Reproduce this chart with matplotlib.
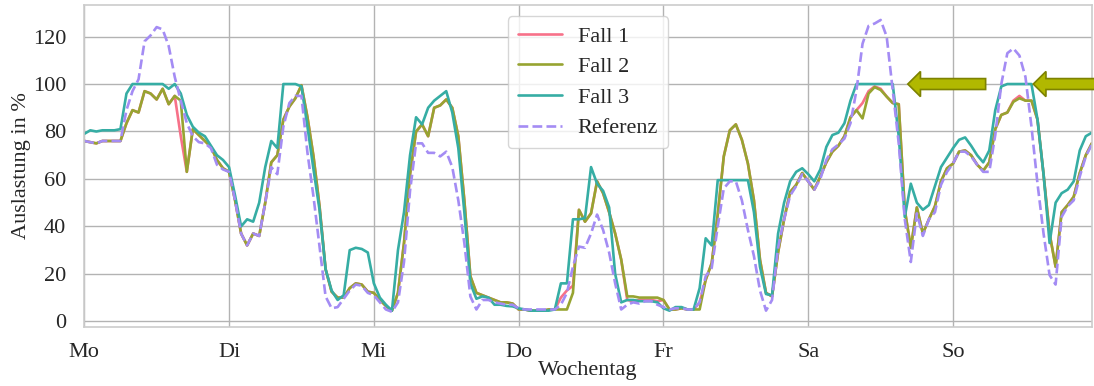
import numpy as np
import matplotlib
matplotlib.use("Agg")
import matplotlib.pyplot as plt
from matplotlib.patches import FancyArrow
import seaborn as sns

# hourly values, Monday 0:00 .. Sunday 23:00
days = ["Mo", "Di", "Mi", "Do", "Fr", "Sa", "So"]

fall3 = [
    79, 80.5, 80, 80.5, 80.5, 80.5, 81, 96, 100, 100, 100, 100, 100, 100, 98, 100, 96, 87, 82, 79.5, 78, 74, 70, 68,
    65, 53, 40, 43, 42, 50, 65, 76, 73, 100, 100, 100, 99, 82, 64, 47, 22, 13, 9, 11, 30, 31, 30.5, 29,
    16, 10, 7, 4.5, 30, 46, 70, 86, 83, 90, 93, 95, 97, 88, 73, 46, 16, 9.5, 10.5, 10, 7, 7, 6.5, 6.3,
    5.5, 5, 4.5, 4.5, 4.5, 4.5, 5, 16, 16, 43, 43, 43.5, 65, 58, 55, 48, 20, 8, 9, 9, 8.5, 8.5, 8.5, 8,
    5.5, 4.5, 6, 6, 5, 5, 14, 35, 32, 59.5, 59.5, 59.5, 59.5, 59.5, 59.5, 46, 23, 11.5, 11, 37, 50, 59, 63, 64.5,
    62, 59, 64, 73.5, 78.5, 79.5, 83.5, 93, 100, 100, 100, 100, 100, 100, 100, 78, 44, 58, 50, 47, 49, 57, 65, 69,
    73, 76.5, 77.5, 74, 70, 67, 72, 89, 99, 100, 100, 100, 100, 100, 85, 62, 33, 50, 54, 55.5, 59, 72, 78, 79.5,
]

fall2 = [
    76, 75.5, 75, 76, 76, 76, 76, 83.5, 89, 88, 97, 96, 93.5, 98, 91.5, 95, 93, 63, 81, 78.5, 76, 73.5, 68, 64.5,
    63, 51, 37, 32, 37, 36, 50, 67, 70, 85, 90.5, 94, 99.5, 86, 69.5, 48.5, 22, 12.5, 10, 10, 14, 16, 15.5, 12.5,
    12, 9, 6.5, 4.5, 12, 33, 62, 80, 83, 78, 90, 91, 93.5, 90, 78, 51, 19, 12, 11, 10, 9, 8, 8, 7.5,
    5, 5, 4.5, 4.5, 4.5, 5, 5, 5, 5, 12, 47, 42, 45.5, 59, 54, 46, 37, 26, 10.5, 10.5, 10, 10, 10, 10,
    9, 5, 5, 5.5, 5, 5, 5, 17.5, 24.5, 45, 69.5, 80.5, 83, 76.5, 66.5, 51, 26, 12, 10.5, 29, 43, 54.5, 57.5, 62.5,
    59, 55.5, 61, 67, 71.5, 74, 78, 86, 89, 85.5, 96, 98.7, 97.5, 94.7, 92, 91.5, 47, 31, 48, 37, 43, 48.5, 59, 64.5,
    66.5, 71.5, 72, 70, 66, 63.5, 67, 81, 87, 88, 92.5, 94, 93, 93, 85, 62, 37, 23, 46, 49, 52.5, 62.5, 70, 75,
]

fall1 = [
    76, 75.5, 75, 76, 76, 76, 76, 83.5, 89, 88, 97, 96, 93.5, 98, 91.5, 95, 78, 63, 81, 78.5, 76, 73.5, 68, 64.5,
    63, 51, 37, 32, 37, 36, 50, 67, 70, 85, 90.5, 94, 99.5, 86, 69.5, 48.5, 22, 12.5, 10, 10, 14, 16, 15.5, 12.5,
    12, 9, 6.5, 4.5, 12, 33, 62, 80, 83, 78, 90, 91, 93.5, 90, 78, 51, 19, 12, 11, 10, 9, 8, 8, 7.5,
    5, 5, 4.5, 4.5, 4.5, 5, 5, 10, 13, 15, 47, 42, 45.5, 59, 54, 46, 37, 26, 9, 8.5, 9, 9, 9, 8.5,
    9, 5, 5, 5.5, 5, 5, 8, 17.5, 24.5, 45, 69.5, 80.5, 83, 76.5, 66.5, 51, 26, 12, 10.5, 29, 43, 54.5, 57.5, 62.5,
    59, 55.5, 61, 67, 71.5, 74, 78, 86, 89, 92, 97, 99, 98, 94.7, 92, 91.5, 47, 31, 48, 37, 43, 48.5, 59, 64.5,
    66.5, 71.5, 72, 70, 66, 63.5, 67, 81, 87, 88, 93, 95, 93, 93, 85, 62, 37, 23, 46, 49, 52.5, 62.5, 70, 75,
]

referenz = [
    76, 75.5, 75, 76, 76, 76, 76, 89, 97, 102, 118, 120.5, 124, 123, 116, 103, 93, 83.5, 78, 75.5, 75, 73, 66, 64,
    63, 51, 37, 32, 37, 36, 50, 65, 62, 82, 92, 95, 95, 71, 52.5, 31.5, 10.5, 5.5, 6, 9.5, 13, 15.5, 15, 12,
    11, 8, 5, 4, 8, 25, 55, 75, 75, 71, 71, 69.5, 71.5, 65, 51, 33, 10.5, 5, 9, 9, 8, 7.5, 7, 7,
    5.5, 5, 5, 5, 5, 5, 5, 7, 12, 23, 31.5, 31, 37, 45, 38.5, 29, 16, 5, 7, 8, 7.5, 8.5, 8.5, 7,
    6, 5, 5.5, 5.5, 5, 5, 8, 19, 22.5, 40, 56, 59, 59, 51, 38.5, 27.5, 13, 4.5, 9, 31, 43, 53, 57, 62,
    59, 55.5, 60, 68, 72.5, 74.5, 77, 83.5, 97.5, 117, 124.5, 125.5, 127, 120, 97.5, 75, 43, 25, 45.5, 36, 43, 46, 57.5, 63,
    66.5, 71.5, 71.5, 69.5, 66, 63, 63, 78.5, 100, 113, 115, 112, 103, 82, 58, 37, 19.5, 15.5, 44, 48.5, 51, 61, 69.5, 74.5,
]

hours = np.arange(len(fall3))

sns.set_theme(style="whitegrid")
plt.rcParams["font.family"] = ["Liberation Serif", "DejaVu Serif"]
plt.rcParams["font.size"] = 16

colors = sns.color_palette("husl", 4)

fig, ax = plt.subplots(figsize=(10.94, 3.86), dpi=100)
fig.subplots_adjust(left=0.077, right=0.998, top=0.987, bottom=0.154)

ax.plot(hours, fall1, color=colors[0], lw=1.9, label="Fall 1")
ax.plot(hours, fall2, color=colors[1], lw=1.9, label="Fall 2")
ax.plot(hours, fall3, color=colors[2], lw=1.9, label="Fall 3")
ax.plot(hours, referenz, color=colors[3], lw=1.9, ls="--", label="Referenz")

# arrows marking the capped peaks
arrow_kw = dict(width=4.6, head_width=10.6, head_length=2.1, length_includes_head=True,
                fc="#b1b800", ec="#7d8200", lw=1.2, clip_on=False, zorder=5)
ax.add_patch(FancyArrow(149.4, 100, -12.9, 0, **arrow_kw))
ax.add_patch(FancyArrow(168.5, 100, -11.2, 0, **arrow_kw))

ax.set_xlim(0, 167)
ax.set_ylim(-2.2, 133.3)
ax.set_xticks(np.arange(0, 168, 24))
ax.set_xticklabels(days)
ax.set_yticks(np.arange(0, 121, 20))
ax.tick_params(axis="x", pad=6, labelsize=16)
ax.tick_params(axis="y", pad=7, labelsize=16)
ax.grid(True, color="#b3b3b3", lw=1.0)
for s in ax.spines.values():
    s.set_color("#cccccc")
    s.set_linewidth(1.2)

ax.set_xlabel("Wochentag", fontsize=16, labelpad=-1)
ax.set_ylabel("Auslastung in %", fontsize=16, labelpad=1)

ax.legend(loc="upper center", bbox_to_anchor=(0.5, 1.0), fontsize=16, handlelength=2.0,
          handletextpad=0.7, labelspacing=0.45, borderpad=0.45, framealpha=0.8)

fig.savefig("out.png", dpi=100)
